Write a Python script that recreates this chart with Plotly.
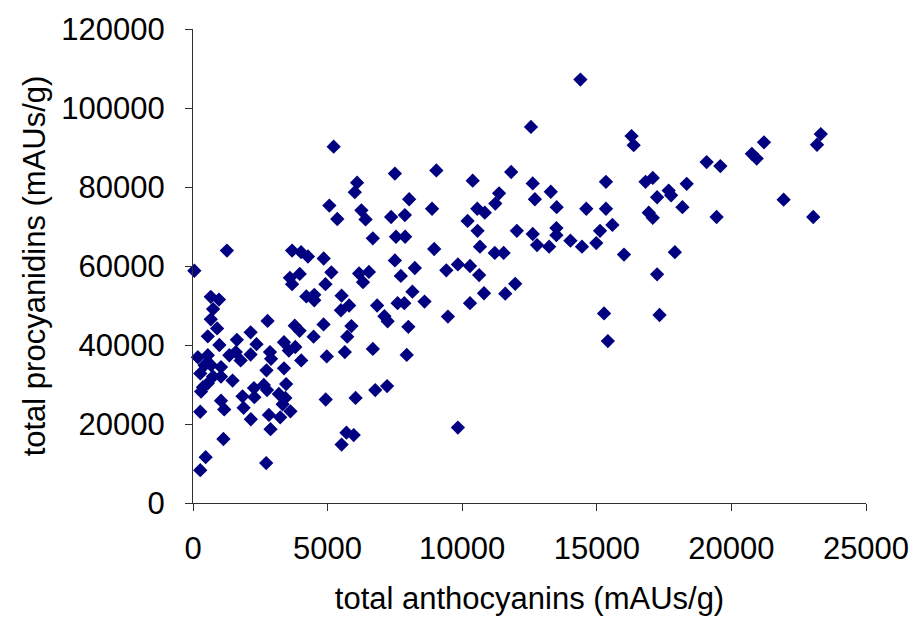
import plotly.graph_objects as go

# total anthocyanins (mAUs/g) per sample
anthocyanins = [
    50, 180, 550, 660, 965, 745, 660, 895, 550, 980,
    430, 670, 1040, 270, 745, 1040, 370, 550, 300, 1040,
    1160, 270, 1130, 470, 270, 1260, 1470,
    1350, 1590, 1770, 1630, 2140, 2360, 2140, 2770, 2860, 2900,
    2730, 2265, 2630, 2750, 1840, 2280, 1880, 2150, 2820, 2880, 2720,
    3380, 3560, 3800, 3780, 3960, 4020, 3380, 3460, 3190, 3430,
    3330, 3620, 3240, 3680, 4015, 4270, 4855, 5140, 3965, 3600,
    3680, 4920, 4210, 4505, 4505, 4850, 4480, 4970, 5640, 5730,
    5885, 5520, 5800, 5495, 4930, 6040, 5700, 5970, 5520, 5225,
    6095, 6010, 5065, 5360, 6255, 6410, 6170, 6535, 6315,
    7500, 9040, 11820, 10390, 8030, 11370, 11230, 7360, 7870, 8880,
    10200, 10560, 10840, 10570, 12030, 6680, 7540, 7880, 8960, 10660,
    11210, 11540, 7500, 8240, 7720, 9410, 9840, 10290, 10630, 8150,
    8600, 7600, 7850, 6840, 10810, 11600, 11970, 10290, 9470, 7110,
    7230, 8000, 6680, 7940, 6770, 7210, 9840,
    14390, 12555, 16290, 16370, 12620, 13290, 12700, 13510, 15340, 14610,
    15340, 16810, 17080, 18340, 17670, 17760, 17240, 18180, 16930, 17080,
    12620, 12780, 13500, 13500, 13230, 14020, 14450, 14980, 15120, 15580,
    16010, 17900, 17240, 15270, 17330, 15410,
    23320, 23180, 21210, 20760, 20940, 19080, 19590, 21940, 19450, 23040,
]

# total procyanidins (mAUs/g) per sample
procyanidins = [
    58800, 36900, 37400, 52200, 51500, 49100, 46500, 44200, 42200, 40000,
    34900, 34900, 34400, 32800, 32000, 32000, 29300, 30300, 28200, 25900,
    23700, 23100, 16200, 11600, 8300, 63900, 31000,
    37400, 38200, 36100, 41300, 43200, 40200, 37600, 46100, 38200, 36500,
    33600, 29100, 29900, 28600, 27000, 26800, 24100, 21200, 22300, 18700, 10100,
    40700, 38600, 39500, 44900, 43600, 36100, 34100, 30100, 27600, 26600,
    25000, 23200, 21700, 63900, 63500, 62400, 61900, 58400, 58000, 57000,
    55400, 55400, 52300, 52700, 51300, 45200, 42100, 37100, 38200, 42100,
    44800, 52500, 50000, 48800, 26200, 26600, 17800, 17200, 14800, 90200,
    81100, 78700, 75300, 71900, 74100, 71800, 58100, 58500, 55900,
    83400, 84200, 83800, 81600, 76900, 78400, 75800, 72400, 72900, 74500,
    71400, 74500, 73500, 68900, 68900, 67000, 67400, 67400, 64300, 64900,
    63300, 63300, 61400, 59500, 57500, 58900, 60400, 60000, 57700, 53500,
    51000, 50600, 50600, 50000, 53100, 53000, 55500, 50600, 47200, 47300,
    46000, 44600, 39000, 37500, 28600, 29600, 19100,
    107200, 95200, 92900, 90600, 80900, 78800, 76900, 74900, 81300, 74500,
    74500, 81300, 82300, 80800, 79100, 77900, 77400, 74900, 73500, 72200,
    68100, 65300, 69600, 67800, 64900, 66400, 64900, 65800, 68900, 70400,
    62900, 63500, 57900, 48000, 47600, 41000,
    93400, 90700, 91300, 88400, 87200, 86300, 85300, 76800, 72400, 72400,
]

x_ticks = [0, 5000, 10000, 15000, 20000, 25000]
y_ticks = [0, 20000, 40000, 60000, 80000, 100000, 120000]

FONT = "Arial, Liberation Sans, sans-serif"
AXIS_COLOR = "#303030"
TEXT_SIZE = 31

fig = go.Figure(
    go.Scatter(
        x=anthocyanins,
        y=procyanidins,
        mode="markers",
        marker=dict(symbol="diamond", size=11, color="#000080", line=dict(width=0)),
        cliponaxis=False,
        showlegend=False,
    )
)

fig.update_layout(
    width=921,
    height=622,
    margin=dict(l=193, r=48, t=23, b=117),
    paper_bgcolor="white",
    plot_bgcolor="white",
    font=dict(family=FONT, color="black", size=TEXT_SIZE),
)

fig.update_xaxes(
    range=[0, 25000],
    tickvals=x_ticks,
    ticktext=[str(v) for v in x_ticks],
    showgrid=False,
    zeroline=False,
    showline=True,
    linecolor=AXIS_COLOR,
    linewidth=1,
    ticks="outside",
    ticklen=7,
    tickcolor=AXIS_COLOR,
    tickfont=dict(size=TEXT_SIZE),
    ticklabelstandoff=11,
    title=dict(text="total anthocyanins (mAUs/g)", font=dict(size=TEXT_SIZE), standoff=22),
)

fig.update_yaxes(
    range=[0, 120000],
    tickvals=y_ticks,
    ticktext=[str(v) for v in y_ticks],
    showgrid=False,
    zeroline=False,
    showline=True,
    linecolor=AXIS_COLOR,
    linewidth=1,
    ticks="outside",
    ticklen=7,
    tickcolor=AXIS_COLOR,
    tickfont=dict(size=TEXT_SIZE),
    ticklabelstandoff=14,
    title=dict(text="total procyanidins (mAUs/g)", font=dict(size=TEXT_SIZE), standoff=6),
)

fig.write_html("out.html")
